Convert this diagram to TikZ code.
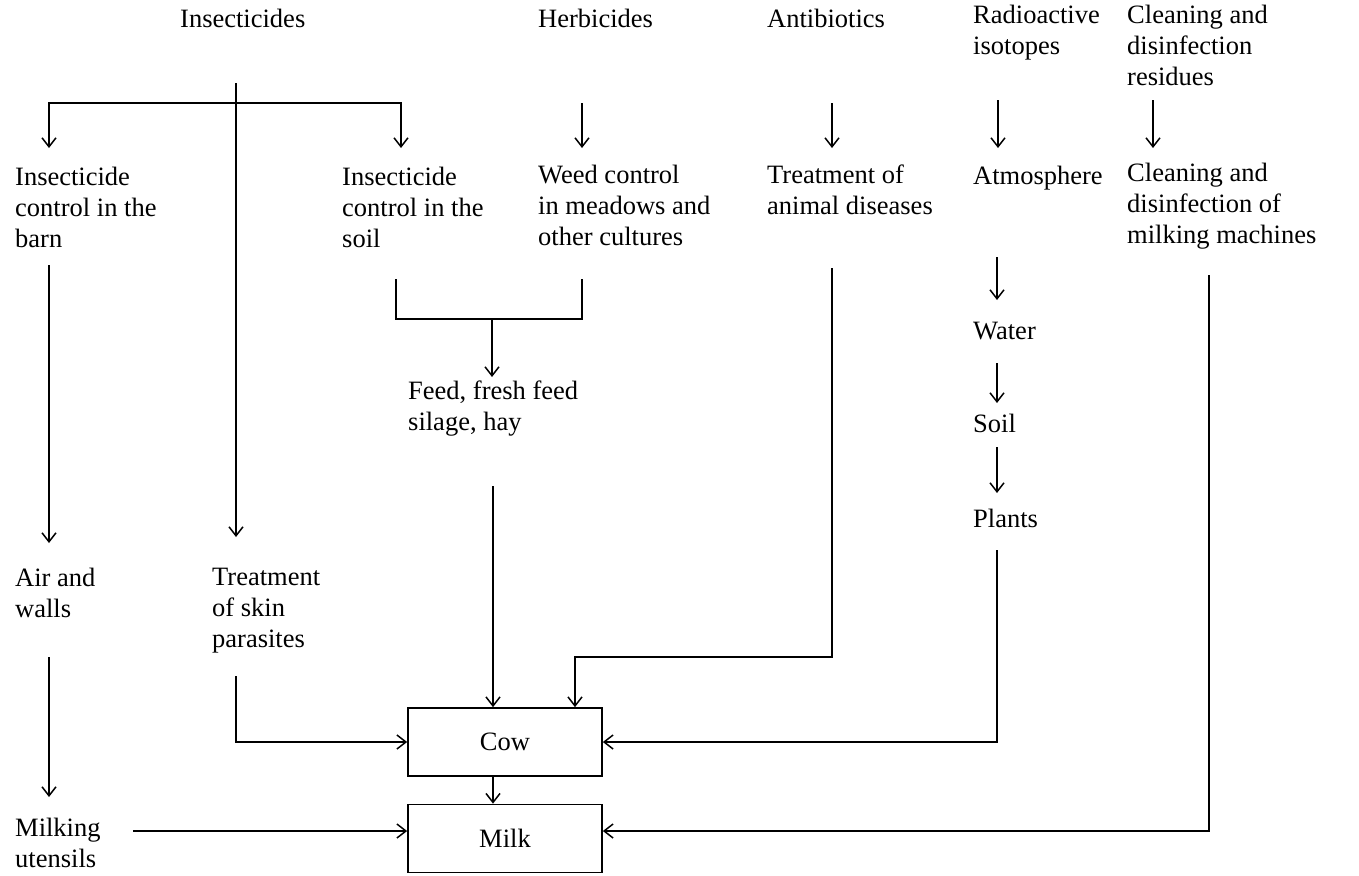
\documentclass[tikz,border=0pt]{standalone}
\usepackage{fontspec}
\setmainfont{Liberation Serif}
\usetikzlibrary{arrows.meta}
\newcommand\diagfont{\fontsize{26.5}{31}\selectfont}
\begin{document}
\begin{tikzpicture}[x=1pt,y=-1pt,
  txt/.style={anchor=north west,inner sep=0pt,align=left,font=\diagfont,execute at begin node=\strut},
  box/.style={draw,line width=1.7pt,minimum width=194pt,minimum height=68pt,inner sep=0pt,font=\diagfont},
  ln/.style={line width=1.7pt},
  barb/.tip={Straight Barb[length=9pt,width=14pt,line width=1.5pt]},
  arr/.style={ln,-barb}]
\useasboundingbox (0,0) rectangle (1359,875);

% texts
\node[txt] (insect) at (180,6) {Insecticides};
\node[txt] (herb) at (538,6) {Herbicides};
\node[txt] (anti) at (767,6) {Antibiotics};
\node[txt] (radio) at (973,5) {Radioactive\\isotopes};
\node[txt] (cleanres) at (1127,5) {Cleaning and\\disinfection\\residues};
\node[txt] (barn) at (15,167) {Insecticide\\control in the\\barn};
\node[txt] (soilctl) at (342,167) {Insecticide\\control in the\\soil};
\node[txt] (weed) at (538,165) {Weed control\\in meadows and\\other cultures};
\node[txt] (disease) at (767,165) {Treatment of\\animal diseases};
\node[txt] (atmo) at (973,163) {Atmosphere};
\node[txt] (cleanmach) at (1127,163) {Cleaning and\\disinfection of\\milking machines};
\node[txt] (feed) at (408,381) {Feed, fresh feed\\silage, hay};
\node[txt] (water) at (973,318) {Water};
\node[txt] (soil) at (973,411) {Soil};
\node[txt] (plants) at (973,506) {Plants};
\node[txt] (air) at (15,568) {Air and\\walls};
\node[txt] (skin) at (212,568) {Treatment\\of skin\\parasites};
\node[txt] (utensils) at (15,818) {Milking\\utensils};
\node[box] (cow) at (505,742) {Cow};
\node[box] (milk) at (505,838.5) {Milk};

% connector points
\coordinate (i0) at (236,83);
\coordinate (i1) at (236,537);
\coordinate (bl) at (49,103);
\coordinate (bla) at (49,148);
\coordinate (br) at (401,103);
\coordinate (bra) at (401,148);
\coordinate (h0) at (582,103);
\coordinate (h1) at (582,148);
\coordinate (a0) at (832,103);
\coordinate (a1) at (832,148);
\coordinate (r0) at (998,100);
\coordinate (r1) at (998,148);
\coordinate (c0) at (1153,100);
\coordinate (c1) at (1153,148);
\coordinate (ba0) at (49,265);
\coordinate (ba1) at (49,543);
\coordinate (s0) at (396,279);
\coordinate (s1) at (396,319);
\coordinate (w1) at (582,319);
\coordinate (w0) at (582,279);
\coordinate (m0) at (492,319);
\coordinate (m1) at (492,377);
\coordinate (f0) at (493,486);
\coordinate (d0) at (832,268);
\coordinate (d1) at (832,657);
\coordinate (d2) at (575,657);
\coordinate (at0) at (997,257);
\coordinate (at1) at (997,300);
\coordinate (wa0) at (997,363);
\coordinate (wa1) at (997,403);
\coordinate (so0) at (997,447);
\coordinate (so1) at (997,493);
\coordinate (p0) at (997,550);
\coordinate (cm0) at (1209,275);
\coordinate (sk0) at (236,676);
\coordinate (ai0) at (49,657);
\coordinate (ai1) at (49,797);
\coordinate (u0) at (133,831);

% connectors
\draw[arr] (i0) -- (i1);
\draw[ln,barb-barb] (bla) -- (bl) -- (br) -- (bra);
\draw[arr] (h0) -- (h1);
\draw[arr] (a0) -- (a1);
\draw[arr] (r0) -- (r1);
\draw[arr] (c0) -- (c1);
\draw[arr] (ba0) -- (ba1);
\draw[ln] (s0) -- (s1) -- (w1) -- (w0);
\draw[arr] (m0) -- (m1);
\draw[arr] (f0) -- (f0 |- cow.north);
\draw[arr] (d0) -- (d1) -- (d2) -- (d2 |- cow.north);
\draw[arr] (at0) -- (at1);
\draw[arr] (wa0) -- (wa1);
\draw[arr] (so0) -- (so1);
\draw[arr] (p0) -- (p0 |- cow.east) -- (cow.east);
\draw[arr] (sk0) -- (sk0 |- cow.west) -- (cow.west);
\draw[arr] (ai0) -- (ai1);
\draw[arr] (u0) -- (u0 -| milk.west);
\draw[arr] (cm0) -- (cm0 |- u0) -- (milk.east |- u0);
\draw[arr] (f0 |- cow.south) -- (f0 |- milk.north);
\end{tikzpicture}
\end{document}
